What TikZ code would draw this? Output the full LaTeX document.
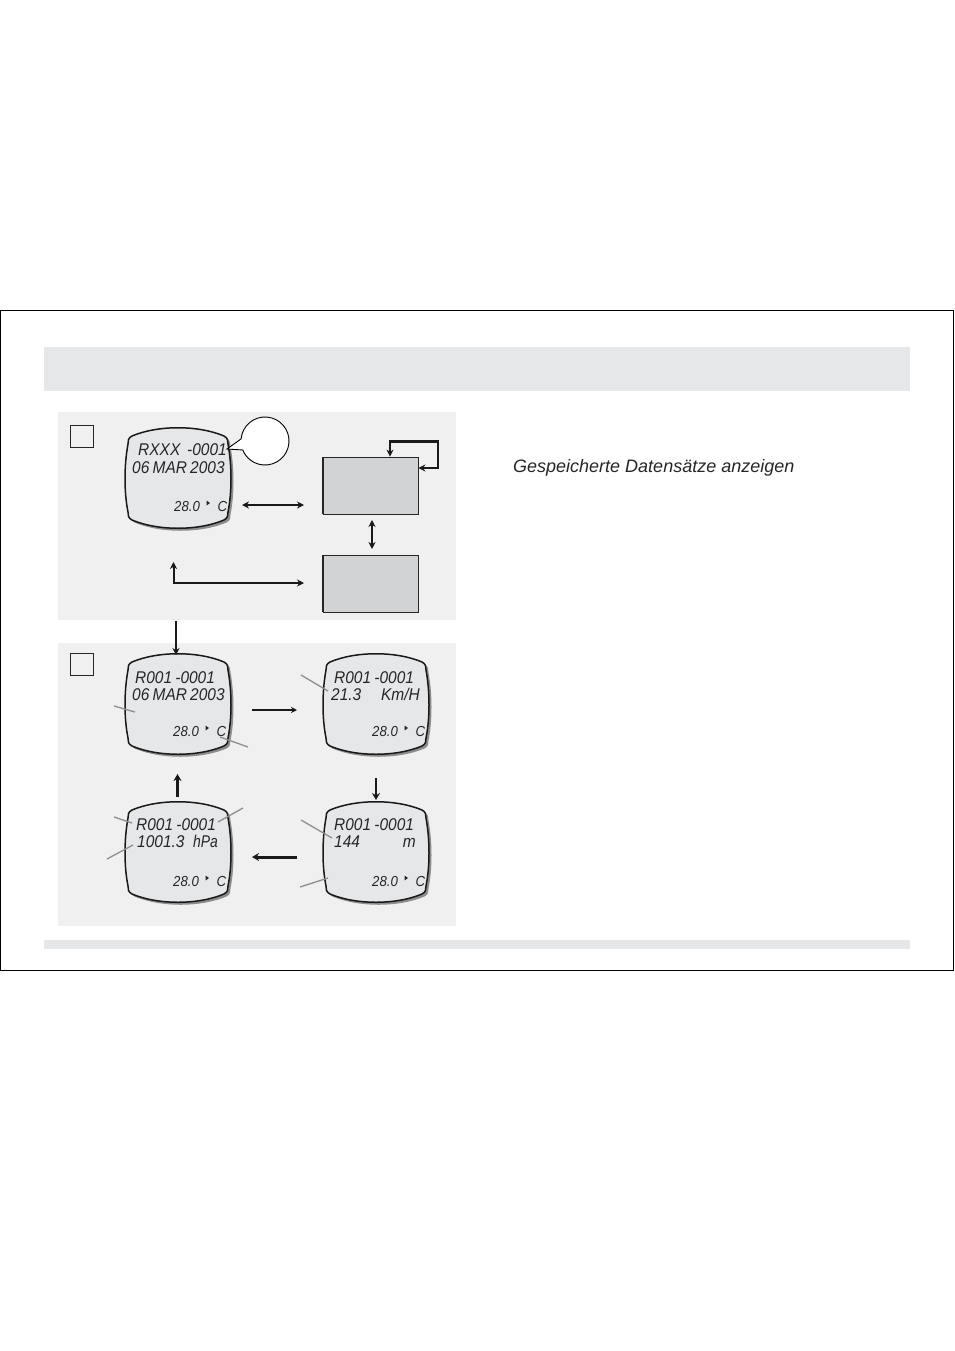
\documentclass[tikz,border=0pt]{standalone}
\usepackage{fontspec}
\setmainfont{Liberation Sans}
\newfontfamily\lcdfont[FakeStretch=0.91, WordSpace=0.75]{Liberation Sans}
\usetikzlibrary{arrows.meta}
\definecolor{panelgray}{HTML}{F0F0F0}
\definecolor{bargray}{HTML}{E6E7E8}
\definecolor{screengray}{HTML}{E6E7E9}
\definecolor{boxgray}{HTML}{D1D3D4}
\definecolor{leadgray}{HTML}{8F8F8F}
\tikzset{
  panel/.style={fill=panelgray, draw=none},
  lcdline/.style={font=\fontsize{17}{17}\lcdfont\itshape, anchor=base west, inner sep=0pt, text=black!85},
  lcdtemp/.style={font=\fontsize{14.5}{14.5}\lcdfont\itshape, anchor=base west, inner sep=0pt, text=black!85},
  leader/.style={draw=leadgray, line width=1.3pt},
  flow/.style={draw=black!90, line width=2pt, >={Stealth[length=7pt,width=7pt]}},
  flowthin/.style={draw=black!90, line width=1.7pt, >={Stealth[length=6pt,width=6pt]}},
  flowthick/.style={draw=black!90, line width=3pt, >={Stealth[length=7pt,width=8pt]}},
  tagbox/.style={draw=black!85, fill=panelgray, line width=0.7pt, minimum width=23pt, minimum height=22pt, inner sep=0pt},
  graybox/.style={draw=black!85, fill=boxgray, line width=0.8pt, minimum width=95pt, minimum height=57pt, inner sep=0pt}
}
\newcommand{\lcdpath}{(-46,-42) .. controls (-20,-53) and (20,-53) .. (46,-42) .. controls (50,-40) and (50,-37) .. (50,-34) .. controls (54,-12) and (54,14) .. (50,34) .. controls (50,37) and (50,40) .. (46,42) .. controls (20,53) and (-20,53) .. (-46,42) .. controls (-50,40) and (-50,37) .. (-50,34) .. controls (-54,14) and (-54,-12) .. (-50,-34) .. controls (-50,-37) and (-50,-40) .. (-46,-42) -- cycle}
\begin{document}
\begin{tikzpicture}[x=1pt, y=-1pt]
\useasboundingbox (0,0) rectangle (954,1351);
% Frame and bars
\draw[black, line width=0.8pt, fill=white] (0.5,310.5) rectangle (953.5,970);
\fill[bargray] (44,347) rectangle (910,391);
\fill[bargray] (44,940) rectangle (910,949);
\fill[panel] (58,412) rectangle (456,620);
\fill[panel] (58,643) rectangle (456,926);
\node[tagbox] (tagA) at (81.5,436) {};
\node[tagbox] (tagB) at (81.5,664) {};
% Screens
\foreach \nm/\cx/\cy in {A/178/478, B/178/704, C/376/704, D/178/852, E/376/852}{
  \fill[black!45, shift={(\cx+2.5,\cy+2.5)}] \lcdpath;
  \draw[black!90, line width=1.5pt, fill=screengray, shift={(\cx,\cy)}] \lcdpath;
  \node[minimum width=106pt, minimum height=100pt, inner sep=0pt] (scr\nm) at (\cx,\cy) {};
}
% Screen texts
\node[lcdline] (txtAa) at (138,455.5) {RXXX};
\node[lcdline, anchor=base east] (txtAb) at (227,455.5) {-0001};
\node[lcdline] (txtAc) at (132,473) {06 MAR 2003};
\node[lcdline] (txtBa) at (135,683) {R001 -0001};
\node[lcdline] (txtBb) at (132,700.5) {06 MAR 2003};
\node[lcdline] (txtCa) at (334,683) {R001 -0001};
\node[lcdline] (txtCb) at (331,700) {21.3};
\node[lcdline, anchor=base east] (txtCc) at (420,700) {Km/H};
\node[lcdline] (txtDa) at (136,830) {R001 -0001};
\node[lcdline] (txtDb) at (137,847) {1001.3};
\node[lcdline, anchor=base east, xscale=0.9] (txtDc) at (218,847) {hPa};
\node[lcdline] (txtEa) at (334,830) {R001 -0001};
\node[lcdline] (txtEb) at (334,847) {144};
\node[lcdline, anchor=base east] (txtEc) at (416,847) {m};
% Temperature lines
\foreach \nm/\tx/\ty in {A/174/506, B/173/731, C/372/731, D/173/881, E/372/881}{
  \node[lcdtemp] (tmp\nm) at (\tx,\ty+5) {28.0};
  \node[lcdtemp] (unit\nm) at (\tx+43.5,\ty+5) {C};
  \fill[black!85] (\tx+32.5,\ty-5.5) -- (\tx+36,\ty-3) -- (\tx+32.5,\ty-0.5) -- cycle;
}
% Callout
\draw[black, line width=0.9pt, fill=white] (241.1,438.9) arc[start angle=185, delta angle=333, radius=24] -- (227,449) -- cycle;
\node[circle, minimum size=48pt, inner sep=0pt] (callA) at (265,441) {};
% Boxes
\node[graybox] (boxA) at (370.5,485.5) {};
\node[graybox] (boxB) at (370.5,583.5) {};
\draw[black!85, line width=1.5pt] (boxA.south west) -- (boxA.north west);
\draw[black!85, line width=1.5pt] (boxB.south west) -- (boxB.north west);
% Arrows top panel
\coordinate (dblA) at (242,505);
\coordinate (dblB) at (304,505);
\coordinate (vrtA) at (372,520);
\coordinate (vrtB) at (372,549);
\coordinate (upL) at (173.5,562);
\coordinate (upM) at (173.5,583);
\coordinate (upR) at (304,583);
\coordinate (loopA) at (438,468);
\coordinate (loopB) at (438,441.5);
\coordinate (loopC) at (390,441.5);
\draw[flow, <->] (dblA) -- (dblB);
\draw[flow, <->] (vrtA) -- (vrtB);
\draw[flow, <->] (upL) -- (upM) -- (upR);
\draw[flow, line width=2.6pt, <->] (boxA.east |- loopA) -- (loopA) -- (loopB) -- (loopC) -- (loopC |- boxA.north);
% Arrows bottom panel
\coordinate (inA) at (176,621);
\coordinate (inB) at (176,655);
\coordinate (rgtA) at (252,710);
\coordinate (rgtB) at (297,710);
\coordinate (dwnA) at (376,778);
\coordinate (dwnB) at (376,800);
\coordinate (lftA) at (297,857);
\coordinate (lftB) at (252,857);
\coordinate (uppA) at (177.5,797);
\coordinate (uppB) at (177.5,774);
\draw[flow, ->] (inA) -- (inB);
\draw[flowthin, ->] (rgtA) -- (rgtB);
\draw[flowthick, line width=2.4pt, ->] (dwnA) -- (dwnB);
\draw[flowthick, ->] (lftA) -- (lftB);
\draw[flowthick, ->] (uppA) -- (uppB);
% Leaders
\draw[leader] (114,706) -- (135,712);
\draw[leader] (220,737) -- (248,747);
\draw[leader] (301,675) -- (328,691);
\draw[leader] (114,817) -- (132,823);
\draw[leader] (218,822) -- (243,808);
\draw[leader] (107,859) -- (133,845);
\draw[leader] (301,820) -- (332,838);
\draw[leader] (300,887) -- (328,878);
% Caption
\node[font=\fontsize{18}{18}\selectfont\itshape, anchor=west, inner sep=0pt, text=black!85] (capA) at (513,467.5) {Gespeicherte Datensätze anzeigen};
\end{tikzpicture}
\end{document}
